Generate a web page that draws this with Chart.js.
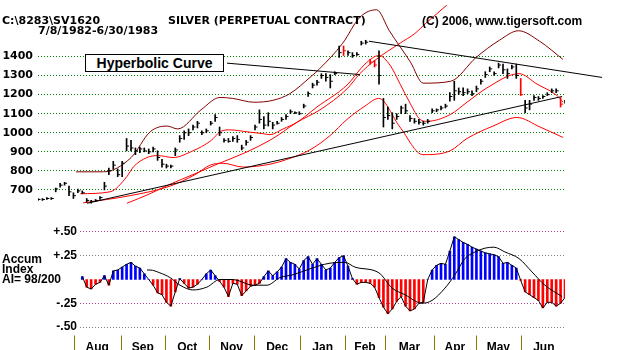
<!DOCTYPE html>
<html>
<head>
<meta charset="utf-8">
<script src="https://cdn.jsdelivr.net/npm/chart.js@4.4.1/dist/chart.umd.min.js"></script>
<style>
  body { margin: 0; background: #fff; width: 624px; height: 350px; overflow: hidden; position: relative; }
  canvas { position: absolute; left: 0; }
  #priceChart { top: 0; }
  #accumChart { top: 214px; }
  .txt { position: absolute; white-space: nowrap; font-weight: bold; color: #000; }
  .dv { font-family: "DejaVu Sans"; font-size: 11px; line-height: 11px; }
  .lb { font-family: "Liberation Sans"; font-size: 12px; line-height: 12px; }
  #curveBox {
    position: absolute; left: 85px; top: 54px; width: 139px; height: 18px; box-sizing: border-box;
    border: 1px solid #000; background: #fff; text-align: center;
    font: bold 14px "Liberation Sans"; line-height: 16px;
  }
</style>
</head>
<body>
<canvas id="priceChart" width="624" height="214" style="width:624px;height:214px"></canvas>
<canvas id="accumChart" width="624" height="136" style="width:624px;height:136px"></canvas>
<div class="txt dv" style="left:2px;top:15px">C:\8283\SV1620</div>
<div class="txt dv" style="left:38px;top:25px">7/8/1982-6/30/1983</div>
<div class="txt dv" style="left:168px;top:15px">SILVER (PERPETUAL CONTRACT)</div>
<div class="txt lb" style="left:422px;top:15px">(C) 2006, www.tigersoft.com</div>
<div class="txt lb" style="left:2px;top:254px;line-height:10px">Accum<br>Index<br>AI= 98/200</div>
<div id="curveBox">Hyperbolic Curve</div>
<script>
// x axis = trading sessions since 7/8/1982 (0 .. 249 = 6/30/1983)
// one plotted bar about every other session
const SAMPLE_STEP = 249 / 119;

const priceHigh = [
  655, 655, 660, 660, 710, 735, 740, 720, 685, 705,
  695, 655, 645, 650, 665, 740, 815, 850, 810, 850,
  970, 960, 920, 925, 920, 915, 925, 905, 860, 835,
  830, 920, 985, 1010, 1020, 1040, 1060, 1010, 1020, 1060,
  1095, 1030, 970, 970, 980, 985, 935, 960, 985, 1040,
  1120, 1085, 1105, 1055, 1060, 1080, 1095, 1120, 1110, 1110,
  1150, 1215, 1260, 1275, 1310, 1310, 1305, 1320, 1455, 1455,
  1430, 1420, 1420, 1480, 1485, 1385, 1380, 1430, 1180, 1135,
  1105, 1100, 1140, 1150, 1090, 1075, 1070, 1060, 1070, 1125,
  1125, 1140, 1150, 1210, 1270, 1235, 1235, 1230, 1220, 1245,
  1280, 1320, 1345, 1320, 1365, 1360, 1335, 1355, 1360, 1285,
  1170, 1170, 1195, 1190, 1195, 1210, 1230, 1230, 1185, 1170
];
const priceLow = [
  645, 645, 650, 650, 690, 715, 725, 670, 655, 685,
  680, 635, 630, 640, 650, 700, 780, 810, 770, 770,
  905, 905, 885, 895, 900, 890, 900, 855, 820, 815,
  815, 880, 950, 965, 985, 1015, 1025, 990, 1000, 1040,
  1060, 985, 950, 950, 955, 950, 910, 935, 960, 1015,
  1050, 1020, 1035, 1020, 1045, 1060, 1070, 1100, 1100, 1095,
  1130, 1190, 1235, 1250, 1285, 1270, 1235, 1305, 1395, 1405,
  1405, 1395, 1405, 1460, 1465, 1360, 1345, 1255, 1030, 1070,
  1020, 1070, 1100, 1100, 1060, 1050, 1045, 1040, 1050, 1105,
  1110, 1120, 1130, 1165, 1170, 1200, 1195, 1205, 1195, 1215,
  1255, 1290, 1320, 1300, 1340, 1310, 1285, 1335, 1285, 1195,
  1105, 1120, 1170, 1170, 1180, 1195, 1210, 1210, 1135, 1155
];
const priceClose = [
  650, 650, 655, 655, 705, 725, 735, 690, 670, 695,
  685, 645, 640, 645, 660, 720, 800, 830, 780, 840,
  930, 920, 905, 915, 905, 900, 915, 870, 835, 825,
  825, 910, 970, 1000, 1000, 1030, 1050, 1000, 1010, 1050,
  1080, 1000, 960, 955, 970, 965, 920, 950, 975, 1030,
  1070, 1040, 1060, 1040, 1050, 1070, 1085, 1110, 1105, 1100,
  1140, 1205, 1250, 1265, 1300, 1290, 1270, 1310, 1420, 1430,
  1420, 1405, 1410, 1470, 1475, 1370, 1355, 1300, 1080, 1090,
  1050, 1085, 1130, 1115, 1075, 1060, 1055, 1050, 1060, 1115,
  1120, 1130, 1140, 1190, 1220, 1215, 1210, 1215, 1205, 1230,
  1270, 1305, 1335, 1310, 1355, 1330, 1310, 1345, 1300, 1200,
  1130, 1150, 1185, 1180, 1190, 1200, 1220, 1220, 1150, 1160
];
const downBars = [69, 75, 76, 109, 118];
const priceTicks = [700, 800, 900, 1000, 1100, 1200, 1300, 1400];

// bands (session, value)
const upperBandDays = [18, 31, 44, 53, 61, 66, 77, 86, 92, 102, 111, 119, 129, 133, 144, 152, 160, 166, 176, 182, 195, 207, 218, 227, 237, 248];
const upperBandValues = [795, 795, 870, 1005, 1035, 1020, 1120, 1185, 1180, 1160, 1170, 1205, 1295, 1335, 1470, 1605, 1645, 1535, 1370, 1260, 1270, 1395, 1485, 1535, 1480, 1385];
const maDays = [20, 34, 42, 45, 51.5, 56.7, 63.8, 73.2, 81.3, 86.9, 90.7, 98.7, 106.3, 109.6, 115.8, 122.4, 131.8, 146, 154.5, 161.1, 166.3, 171.1, 175.8, 180.5, 183.8, 194.7, 202.7, 212.1, 227.3, 235.8, 245.2, 248.1];
const maValues = [680, 690, 770, 820, 870, 880, 870, 905, 955, 1010, 1015, 1005, 995, 990, 1020, 1055, 1135, 1250, 1360, 1405, 1355, 1255, 1155, 1070, 1060, 1095, 1160, 1235, 1310, 1255, 1195, 1160];
const lowerBandDays = [21.3, 43.5, 62.4, 74.2, 81.3, 87.4, 96.9, 109.6, 117.6, 128.5, 138, 146, 154.5, 161, 171, 181.9, 194.7, 202.7, 215, 226.3, 237.2, 248.1];
const lowerBandValues = [632, 670, 720, 780, 830, 840, 820, 835, 860, 910, 985, 1070, 1140, 1180, 1030, 885, 905, 970, 1035, 1080, 1030, 975];
const curveDays = [42, 52.9, 62.4, 74.2, 84.6, 97.8, 111, 122.4, 133.2, 146, 152.1, 159.2, 171.1, 178, 183.8, 193.2, 201.7];
const curveValues = [630, 680, 730, 785, 835, 895, 970, 1055, 1120, 1230, 1310, 1380, 1470, 1520, 1580, 1670, 1760];

// trend lines and the label pointer
const supportDays = [23.2, 247.6];
const supportValues = [630, 1190];
const resistanceDays = [156.4, 266.5];
const resistanceValues = [1480, 1290];
const pointerDays = [89.3, 152.1];
const pointerValues = [1365, 1305];

// accumulation index, same bars as the prices
const accumIndex = [
  null, null, null, null, null, null, null, null, null, null,
  0.03, -0.08, -0.10, -0.05, -0.03, 0.04, -0.06, 0.09, 0.10, 0.13,
  0.16, 0.18, 0.14, 0.12, 0.06, 0.00, -0.06, -0.14, -0.16, -0.24,
  -0.28, -0.13, 0.01, -0.04, -0.09, -0.08, -0.05, 0.00, 0.06, 0.10,
  0.04, -0.02, -0.08, -0.18, -0.04, -0.05, -0.17, -0.12, -0.07, -0.06,
  -0.04, 0.03, 0.09, 0.04, 0.08, 0.13, 0.22, 0.18, 0.16, 0.11,
  0.20, 0.24, 0.16, 0.22, 0.16, 0.10, 0.12, 0.18, 0.23, 0.25,
  0.14, 0.01, -0.05, -0.03, -0.03, -0.04, -0.08, -0.19, -0.29, -0.36,
  -0.31, -0.23, -0.18, -0.28, -0.33, -0.31, -0.25, -0.24, 0.00, 0.10,
  0.15, 0.17, 0.16, 0.30, 0.45, 0.42, 0.39, 0.37, 0.34, 0.32,
  0.30, 0.28, 0.27, 0.26, 0.24, 0.17, 0.18, 0.15, 0.12, -0.01,
  -0.13, -0.16, -0.19, -0.22, -0.30, -0.24, -0.24, -0.28, -0.25, -0.19
];
const accumMaDays = [51.5, 52.9, 57.6, 62.4, 67.1, 73.2, 79.8, 86, 92.1, 101.6, 108.2, 114.3, 120.5, 129.5, 137.5, 145, 149.8, 161.1, 167.3, 173.4, 181.4, 186.2, 192.3, 197, 201.7, 206.5, 211.2, 215.4, 220.6, 227.3, 233.4, 239.5, 247.6];
const accumMaValues = [0.10, 0.10, 0.07, 0.02, -0.06, -0.11, -0.08, 0.00, 0.00, -0.06, -0.06, 0.02, 0.05, 0.12, 0.17, 0.18, 0.13, 0.07, -0.09, -0.16, -0.25, -0.22, -0.09, 0.05, 0.22, 0.29, 0.33, 0.34, 0.29, 0.22, 0.08, -0.06, -0.18];
const accumTicks = [0.5, 0.25, -0.25, -0.5];
const accumTickLabels = ['+.50', '+.25', '-.25', '-.50'];

const monthStarts = [17, 39, 60, 81, 102, 124, 145, 164, 187, 207, 228, 250];
const monthLabels = ['Aug', 'Sep', 'Oct', 'Nov', 'Dec', 'Jan', 'Feb', 'Mar', 'Apr', 'May', 'Jun'];

const RED = '#ff0000', MAROON = '#800000', BLUE = '#0000ff';

const pts = (days, values) => days.map((d, i) => ({ x: d, y: values[i] }));
const curve = (data, color, extra) => Object.assign({
  type: 'line', data, borderColor: color, borderWidth: 1, pointRadius: 0,
  cubicInterpolationMode: 'monotone', fill: false
}, extra || {});

const barColor = ctx => downBars.includes(ctx.dataIndex) ? RED : '#000';

const priceBars = priceHigh.map((h, i) => ({ x: i * SAMPLE_STEP, y: [priceLow[i], h] }));
const priceCloses = priceClose.map((c, i) => ({ x: i * SAMPLE_STEP, y: c }));

new Chart(document.getElementById('priceChart'), {
  type: 'line',
  data: {
    datasets: [
      { type: 'line', data: priceCloses, showLine: false, pointStyle: 'dash', pointRadius: 2.5,
        pointBorderWidth: 1, pointBorderColor: barColor, pointBackgroundColor: barColor },
      { type: 'bar', data: priceBars, barThickness: 1, backgroundColor: barColor, borderWidth: 0 },
      curve(pts(pointerDays, pointerValues), '#000', { cubicInterpolationMode: 'default', tension: 0 }),
      curve(pts(resistanceDays, resistanceValues), '#000', { cubicInterpolationMode: 'default', tension: 0, clip: false }),
      curve(pts(supportDays, supportValues), '#000', { cubicInterpolationMode: 'default', tension: 0 }),
      curve(pts(curveDays, curveValues), RED),
      curve(pts(maDays, maValues), RED),
      curve(pts(lowerBandDays, lowerBandValues), RED),
      curve(pts(upperBandDays, upperBandValues), MAROON)
    ]
  },
  options: {
    responsive: false,
    animation: false,
    devicePixelRatio: 1,
    layout: { padding: { left: 0, right: 59, top: 0, bottom: 0 } },
    plugins: { legend: { display: false }, tooltip: { enabled: false } },
    scales: {
      x: { type: 'linear', min: 0, max: 249, offset: false, display: false },
      y: {
        min: 600, max: 1670,
        afterBuildTicks: s => { s.ticks = priceTicks.map(v => ({ value: v })); },
        afterFit: s => { s.width = 38; s.paddingTop = 0; s.paddingBottom = 0; },
        grid: { color: '#008000', drawTicks: false },
        border: { display: false, dash: [1, 2] },
        ticks: {
          color: '#000', padding: 5,
          font: { family: 'DejaVu Sans', weight: 'bold', size: 11 },
          callback: v => String(v)
        }
      }
    }
  }
});

const monthMids = monthLabels.map((_, i) => (monthStarts[i] + monthStarts[i + 1]) / 2);

const monthSeparators = {
  id: 'monthSeparators',
  afterDraw(chart) {
    const { ctx, scales: { x }, chartArea } = chart;
    ctx.save();
    ctx.strokeStyle = '#808000';
    ctx.lineWidth = 1;
    monthStarts.slice(0, -1).forEach(d => {
      const px = Math.round(x.getPixelForValue(d)) + 0.5;
      ctx.beginPath();
      ctx.moveTo(px, chartArea.bottom - 1);
      ctx.lineTo(px, chart.height);
      ctx.stroke();
    });
    ctx.restore();
  }
};

const accumPts = accumIndex
  .map((v, i) => ({ x: i * SAMPLE_STEP, y: v }))
  .filter(p => p.y !== null);

new Chart(document.getElementById('accumChart'), {
  type: 'line',
  data: {
    datasets: [
      curve(pts(accumMaDays, accumMaValues), '#000'),
      curve(accumPts, '#000', { cubicInterpolationMode: 'default', tension: 0 }),
      { type: 'bar', data: accumPts, barThickness: 2, borderWidth: 0,
        backgroundColor: ctx => (ctx.raw && ctx.raw.y >= 0) ? BLUE : RED }
    ]
  },
  options: {
    responsive: false,
    animation: false,
    devicePixelRatio: 1,
    layout: { padding: { left: 0, right: 59, top: 8.5, bottom: 0 } },
    plugins: { legend: { display: false }, tooltip: { enabled: false } },
    scales: {
      x: {
        type: 'linear', min: 19.84, max: 249, offset: false,
        afterBuildTicks: s => { s.ticks = monthMids.map(v => ({ value: v })); },
        afterFit: s => { s.height = 13.5; s.paddingLeft = 0; s.paddingRight = 0; },
        grid: { display: false },
        border: { display: false },
        ticks: {
          color: '#000', padding: -4, maxRotation: 0, autoSkip: false,
          font: { family: 'Liberation Sans', weight: 'bold', size: 12 },
          callback: (v, i) => monthLabels[i]
        }
      },
      y: {
        min: -0.6, max: 0.6,
        afterBuildTicks: s => { s.ticks = accumTicks.map(v => ({ value: v })); },
        afterFit: s => { s.width = 80; s.paddingTop = 0; s.paddingBottom = 0; },
        grid: {
          drawTicks: false,
          color: ctx => (ctx.tick && (ctx.tick.value === 0.5 || ctx.tick.value === -0.25)) ? '#c04090' : '#808080'
        },
        border: { display: false, dash: [1, 2] },
        ticks: {
          color: '#000', padding: 3,
          font: { family: 'Liberation Sans', weight: 'bold', size: 12 },
          callback: (v, i) => accumTickLabels[i]
        }
      }
    }
  },
  plugins: [monthSeparators]
});
</script>
</body>
</html>
